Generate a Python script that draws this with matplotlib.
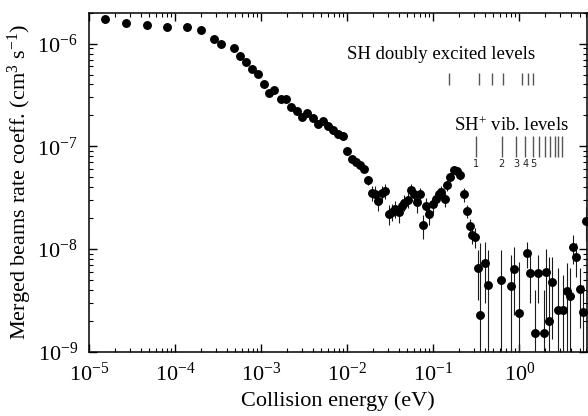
#!/usr/bin/env python3
"""Merged-beams rate coefficient vs collision energy (SH+ + e-)."""

import matplotlib

matplotlib.use("Agg")
import matplotlib.pyplot as plt
from matplotlib.ticker import LogLocator, NullFormatter


ENERGY_EV = [
    1.55e-5, 2.67e-5, 4.68e-5, 8.05e-5, 1.39e-4, 2.0e-4, 2.83e-4, 3.39e-4, 4.80e-4, 5.71e-4,
    6.71e-4, 7.93e-4, 9.25e-4, 1.08e-3, 1.23e-3, 1.41e-3, 1.68e-3, 1.94e-3, 2.24e-3, 2.61e-3,
    3.0e-3, 3.43e-3, 3.96e-3, 4.57e-3, 5.26e-3, 6.01e-3, 6.87e-3, 7.85e-3, 8.99e-3, 1.0e-2,
    1.14e-2, 1.26e-2, 1.41e-2, 1.58e-2, 1.76e-2, 1.94e-2, 2.10e-2, 2.29e-2, 2.53e-2, 2.76e-2,
    3.03e-2, 3.30e-2, 3.61e-2, 3.95e-2, 4.28e-2, 4.61e-2, 5.03e-2, 5.50e-2, 6.0e-2, 6.50e-2,
    6.98e-2, 7.53e-2, 8.20e-2, 8.95e-2, 9.82e-2, 0.107, 0.117, 0.124, 0.136, 0.146,
    0.158, 0.173, 0.190, 0.204, 0.228, 0.249, 0.266, 0.283, 0.304, 0.327,
    0.350, 0.400, 0.429, 0.605, 0.802, 0.859, 0.986, 1.23, 1.32, 1.52,
    1.64, 1.91, 2.05, 2.22, 2.40, 2.79, 3.24, 3.53, 3.86, 4.21,
    4.57, 5.01, 5.51, 5.97,
]
RATE = [
    1.75e-6, 1.60e-6, 1.53e-6, 1.45e-6, 1.45e-6, 1.37e-6, 1.12e-6, 1.00e-6, 9.14e-7, 7.51e-7,
    6.62e-7, 5.71e-7, 5.04e-7, 4.00e-7, 3.34e-7, 3.57e-7, 2.87e-7, 2.87e-7, 2.40e-7, 2.19e-7,
    1.93e-7, 2.11e-7, 1.87e-7, 1.65e-7, 1.77e-7, 1.58e-7, 1.43e-7, 1.32e-7, 1.25e-7, 9.10e-8,
    7.57e-8, 7.05e-8, 6.52e-8, 5.98e-8, 4.68e-8, 3.54e-8, 3.47e-8, 2.96e-8, 3.50e-8, 3.66e-8,
    2.18e-8, 2.31e-8, 2.46e-8, 2.30e-8, 2.61e-8, 2.83e-8, 2.99e-8, 3.72e-8, 3.40e-8, 2.84e-8,
    3.40e-8, 1.71e-8, 2.63e-8, 2.20e-8, 2.72e-8, 3.09e-8, 3.44e-8, 3.59e-8, 3.04e-8, 4.21e-8,
    4.98e-8, 5.94e-8, 5.77e-8, 5.24e-8, 3.40e-8, 2.34e-8, 1.67e-8, 1.38e-8, 1.31e-8, 6.47e-9,
    2.28e-9, 7.37e-9, 4.46e-9, 4.95e-9, 4.38e-9, 6.37e-9, 2.39e-9, 9.12e-9, 5.86e-9, 1.53e-9,
    5.86e-9, 1.53e-9, 6.03e-9, 1.98e-9, 4.82e-9, 2.52e-9, 2.56e-9, 3.94e-9, 3.46e-9, 1.04e-8,
    8.38e-9, 4.10e-9, 2.45e-9, 1.88e-8,
]
RATE_ERR = [
    0.04e-6, 0.04e-6, 0.04e-6, 0.04e-6, 0.04e-6, 0.04e-6, 0.03e-6, 0.03e-6, 0.3e-7, 0.2e-7,
    0.2e-7, 0.2e-7, 0.15e-7, 0.12e-7, 0.1e-7, 0.1e-7, 0.1e-7, 0.1e-7, 0.08e-7, 0.08e-7,
    0.07e-7, 0.07e-7, 0.07e-7, 0.06e-7, 0.06e-7, 0.06e-7, 0.05e-7, 0.05e-7, 0.05e-7, 0.4e-8,
    0.4e-8, 0.4e-8, 0.4e-8, 0.4e-8, 0.5e-8, 0.6e-8, 0.6e-8, 0.62e-8, 0.6e-8, 0.6e-8,
    0.48e-8, 0.45e-8, 0.45e-8, 0.5e-8, 0.45e-8, 0.5e-8, 0.5e-8, 0.6e-8, 0.6e-8, 0.6e-8,
    0.55e-8, 0.45e-8, 0.5e-8, 0.5e-8, 0.5e-8, 0.5e-8, 0.5e-8, 0.5e-8, 0.5e-8, 0.5e-8,
    0.5e-8, 0.5e-8, 0.5e-8, 0.5e-8, 0.5e-8, 0.35e-8, 0.3e-8, 0.25e-8, 0.29e-8, 3.28e-9,
    9.1e-9, 4.38e-9, 5.3e-9, 4.8e-9, 4.35e-9, 4.1e-9, 5.1e-9, 2.6e-9, 2.9e-9, 2.45e-9,
    2.87e-9, 2.45e-9, 3.94e-9, 6.35e-9, 3.5e-9, 4.0e-9, 3.0e-9, 3.36e-9, 3.05e-9, 3.25e-9,
    3.0e-9, 2.4e-9, 2.0e-9, 0.68e-8,
]

DOUBLY_EXCITED_EV = [0.151, 0.339, 0.479, 0.648, 1.08, 1.27, 1.43]
VIB_LEVELS_EV = [0.312, 0.625, 0.916, 1.17, 1.44, 1.70, 1.98, 2.26, 2.56, 2.84, 3.11]
VIB_LABELS = ["1", "2", "3", "4", "5"]

X_MAJOR_TICKS = [1e-5, 1e-4, 1e-3, 1e-2, 1e-1, 1e0]
Y_MAJOR_TICKS = [1e-9, 1e-8, 1e-7, 1e-6]

LEVEL_GREY = "#555555"


def create_plot() -> None:
    plt.rcParams.update(
        {
            "font.family": ["Liberation Serif", "DejaVu Serif"],
            "mathtext.fontset": "custom",
            "mathtext.rm": "Liberation Serif",
            "mathtext.it": "Liberation Serif:italic",
            "mathtext.bf": "Liberation Serif:bold",
            "font.size": 16,
        }
    )

    fig = plt.figure(figsize=(5.88, 4.16), dpi=100)
    ax = fig.add_axes([89 / 588, 0.1546, 498 / 588, 0.8149])

    ax.errorbar(
        ENERGY_EV,
        RATE,
        yerr=RATE_ERR,
        fmt="o",
        color="black",
        markersize=5.4,
        elinewidth=0.8,
        capsize=0,
        ecolor="#1a1a1a",
        zorder=3,
    )

    ax.set_xscale("log")
    ax.set_yscale("log")
    ax.set_xlim(1e-5, 6.1)
    ax.set_ylim(1e-9, 2e-6)

    # level markers: x in data, y in axes fraction
    trans = ax.get_xaxis_transform()
    ax.vlines(DOUBLY_EXCITED_EV, 0.787, 0.823, transform=trans,
              color=LEVEL_GREY, linewidth=1.0)
    ax.vlines(VIB_LEVELS_EV, 0.574, 0.636, transform=trans,
              color=LEVEL_GREY, linewidth=1.0)
    for energy, label in zip(VIB_LEVELS_EV, VIB_LABELS):
        ax.text(energy, 0.555, label, transform=trans, ha="center", va="center",
                fontsize=7, family="DejaVu Sans", color="#222222")

    ax.text(0.707, 0.8625, "SH doubly excited levels", transform=ax.transAxes,
            ha="center", va="baseline", fontsize=13.5)
    ax.text(0.848, 0.652, "SH$^{+}$ vib. levels", transform=ax.transAxes,
            ha="center", va="baseline", fontsize=13.5)

    ax.set_xlabel("Collision energy (eV)", fontsize=16, labelpad=4)
    ax.set_ylabel("Merged beams rate coeff. (cm$^{3}$ s$^{-1}$)", fontsize=16)
    ax.yaxis.set_label_coords(-0.11, 0.5)

    ax.set_xticks(X_MAJOR_TICKS)
    ax.set_yticks(Y_MAJOR_TICKS)
    ax.xaxis.set_minor_locator(LogLocator(base=10, subs=range(2, 10), numticks=12))
    ax.xaxis.set_minor_formatter(NullFormatter())
    ax.yaxis.set_minor_locator(LogLocator(base=10, subs=range(2, 10), numticks=12))
    ax.yaxis.set_minor_formatter(NullFormatter())
    ax.set_xlim(1e-5, 6.1)
    ax.set_ylim(1e-9, 2e-6)

    ax.tick_params(which="both", direction="in", top=True, right=True, colors="black")
    ax.tick_params(which="major", length=6, width=1.0, labelsize=16)
    ax.tick_params(axis="x", which="major", pad=8)
    ax.tick_params(axis="y", which="major", pad=8)
    ax.tick_params(which="minor", length=3.2, width=0.8)
    for spine in ax.spines.values():
        spine.set_linewidth(1.1)

    fig.savefig("out.png", dpi=100, facecolor="white")
    plt.close(fig)


if __name__ == "__main__":
    create_plot()
